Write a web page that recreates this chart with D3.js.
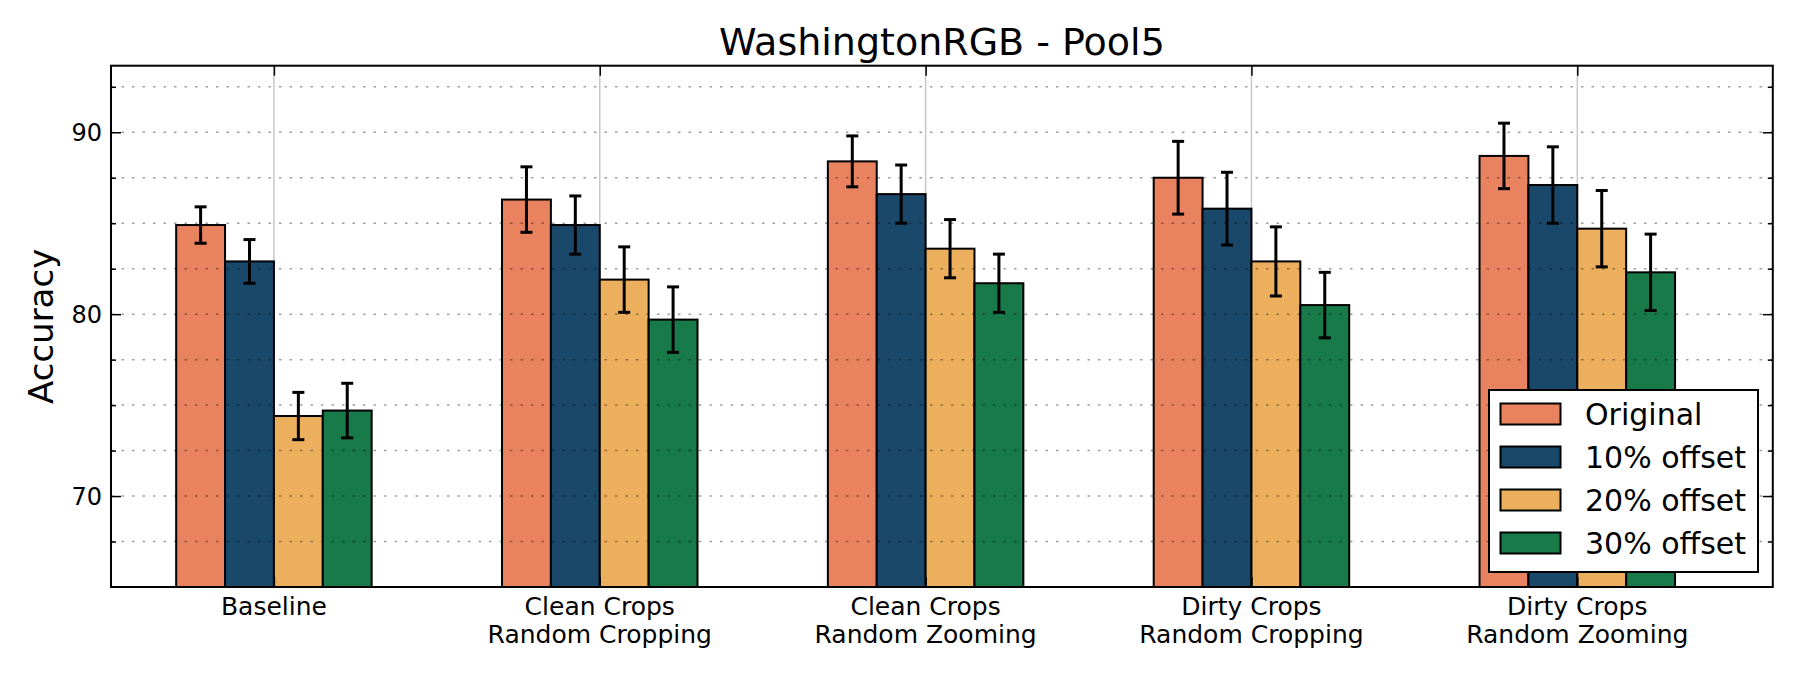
<!DOCTYPE html>
<html>
<head>
<meta charset="utf-8">
<script src="https://cdnjs.cloudflare.com/ajax/libs/d3/7.8.5/d3.min.js"></script>
<style>
  body { margin: 0; background: #fff; }
  text { font-family: "DejaVu Sans", sans-serif; fill: #000; }
</style>
</head>
<body>
<div id="chart"></div>
<script>
// *** WashingtonRGB - Pool5 grouped bars ***

// Data
let categories = ["Baseline", "Clean Crops\nRandom Cropping", "Clean Crops\nRandom Zooming",
    "Dirty Crops\nRandom Cropping", "Dirty Crops\nRandom Zooming"];
let seriesNames = ["Original", "10% offset", "20% offset", "30% offset"];
let seriesColors = ["#E9825F", "#19486B", "#EBAF5E", "#177A48"];

let original = [84.9, 86.3, 88.4, 87.5, 88.7];
let offset10 = [82.9, 84.9, 86.6, 85.8, 87.1];
let offset20 = [74.4, 81.9, 83.6, 82.9, 84.7];
let offset30 = [74.7, 79.7, 81.7, 80.5, 82.3];

let errOriginal = [1.0, 1.8, 1.4, 2.0, 1.8];
let err10 = [1.2, 1.6, 1.6, 2.0, 2.1];
let err20 = [1.3, 1.8, 1.6, 1.9, 2.1];
let err30 = [1.5, 1.8, 1.6, 1.8, 2.1];

let majorTicks = [70, 80, 90];
let minorTicks = [67.5, 72.5, 75, 77.5, 82.5, 85, 87.5, 92.5];

let values = [original, offset10, offset20, offset30];
let errors = [errOriginal, err10, err20, err30];

// Dimensions
let svgWidth = 1800;
let svgHeight = 675;
let margin = { top: 65.7, right: 27.2, bottom: 88, left: 111 };
let width = svgWidth - margin.left - margin.right;
let height = svgHeight - margin.top - margin.bottom;

let barWidth = 0.15;

let svg = d3.select("#chart")
    .append("svg")
    .attr("width", svgWidth)
    .attr("height", svgHeight);

let chartGroup = svg.append("g")
    .attr("transform", `translate(${margin.left},${margin.top})`);

// Scales
let xScale = d3.scaleLinear().domain([-0.5, 4.6]).range([0, width]);
let yScale = d3.scaleLinear().domain([65, 93.66]).range([height, 0]);

// vertical grid at group centres
chartGroup.append("g")
    .selectAll("line")
    .data(categories)
    .enter()
    .append("line")
    .attr("x1", (d, i) => xScale(i))
    .attr("x2", (d, i) => xScale(i))
    .attr("y1", 0)
    .attr("y2", height)
    .attr("stroke", "#c8c8c8")
    .attr("stroke-width", 1.5);

// Bars
let rows = [];
values.forEach(function(vals, s) {
    vals.forEach(function(v, i) {
        rows.push({ s: s, i: i, v: v, e: errors[s][i] });
    });
});

chartGroup.selectAll("rect.bar")
    .data(rows)
    .enter()
    .append("rect")
    .attr("class", "bar")
    .attr("x", d => xScale(d.i + (d.s - 2) * barWidth))
    .attr("width", xScale(barWidth) - xScale(0))
    .attr("y", d => yScale(d.v))
    .attr("height", d => height - yScale(d.v))
    .attr("fill", d => seriesColors[d.s])
    .attr("stroke", "#000")
    .attr("stroke-width", 2);

// horizontal dotted grid (drawn over the bars)
chartGroup.append("g")
    .selectAll("line")
    .data(majorTicks.concat(minorTicks))
    .enter()
    .append("line")
    .attr("x1", 0)
    .attr("x2", width)
    .attr("y1", d => yScale(d))
    .attr("y2", d => yScale(d))
    .attr("stroke", "rgba(0,0,0,0.38)")
    .attr("stroke-width", 1.5)
    .attr("stroke-dasharray", "2.5,8");

// Error bars
let errGroup = chartGroup.append("g")
    .attr("stroke", "#000")
    .attr("stroke-width", 3);

let errBars = errGroup.selectAll("g")
    .data(rows)
    .enter()
    .append("g")
    .attr("transform", d => `translate(${xScale(d.i + (d.s - 1.5) * barWidth)},0)`);

errBars.append("line")
    .attr("y1", d => yScale(d.v + d.e))
    .attr("y2", d => yScale(d.v - d.e));
errBars.append("line")
    .attr("x1", -6).attr("x2", 6)
    .attr("y1", d => yScale(d.v + d.e))
    .attr("y2", d => yScale(d.v + d.e));
errBars.append("line")
    .attr("x1", -6).attr("x2", 6)
    .attr("y1", d => yScale(d.v - d.e))
    .attr("y2", d => yScale(d.v - d.e));

// Axes (ticks inside)
let leftAxis = chartGroup.append("g")
    .call(d3.axisLeft(yScale).tickValues(majorTicks).tickSize(-10).tickPadding(20).tickFormat(d3.format("d")));
chartGroup.append("g")
    .call(d3.axisLeft(yScale).tickValues(minorTicks).tickSize(-5).tickFormat(""));
chartGroup.append("g")
    .attr("transform", `translate(${width},0)`)
    .call(d3.axisRight(yScale).tickValues(majorTicks).tickSize(-10).tickFormat(""));
chartGroup.append("g")
    .attr("transform", `translate(${width},0)`)
    .call(d3.axisRight(yScale).tickValues(minorTicks).tickSize(-5).tickFormat(""));
chartGroup.append("g")
    .call(d3.axisTop(xScale).tickValues(d3.range(categories.length)).tickSize(-10).tickFormat(""));
let bottomAxis = chartGroup.append("g")
    .attr("transform", `translate(0,${height})`)
    .call(d3.axisBottom(xScale).tickValues(d3.range(categories.length)).tickSize(-10).tickFormat(""));

chartGroup.selectAll(".domain").remove();
chartGroup.selectAll(".tick line").attr("stroke", "#000").attr("stroke-width", 1.5);
leftAxis.selectAll("text")
    .attr("font-size", "24px")
    .attr("font-family", "DejaVu Sans")
    .attr("x", -9)
    .attr("dy", "0.36em")
    .attr("fill", "#000");

// x tick labels (two lines)
let xLabels = chartGroup.append("g")
    .selectAll("text")
    .data(categories)
    .enter()
    .append("text")
    .attr("text-anchor", "middle")
    .attr("font-size", "25px")
    .attr("x", (d, i) => xScale(i))
    .attr("y", height + 28);
xLabels.selectAll("tspan")
    .data(d => d.split("\n"))
    .enter()
    .append("tspan")
    .attr("x", function() { return d3.select(this.parentNode).attr("x"); })
    .attr("dy", (d, j) => j === 0 ? 0 : 28.5)
    .text(d => d);

// frame
chartGroup.append("rect")
    .attr("width", width)
    .attr("height", height)
    .attr("fill", "none")
    .attr("stroke", "#000")
    .attr("stroke-width", 2);

// Title
svg.append("text")
    .attr("x", margin.left + width / 2)
    .attr("y", 55)
    .attr("text-anchor", "middle")
    .attr("font-size", "38px")
    .text("WashingtonRGB - Pool5");

// y axis label
svg.append("text")
    .attr("transform", `translate(53,${margin.top + height / 2}) rotate(-90)`)
    .attr("text-anchor", "middle")
    .attr("font-size", "34px")
    .text("Accuracy");

// Legend
let legend = svg.append("g")
    .attr("transform", "translate(1489,390)");
legend.append("rect")
    .attr("width", 269)
    .attr("height", 182)
    .attr("fill", "#fff")
    .attr("stroke", "#000")
    .attr("stroke-width", 2);
let legendItems = legend.selectAll("g.item")
    .data(seriesNames)
    .enter()
    .append("g")
    .attr("class", "item")
    .attr("transform", (d, i) => `translate(0,${24 + i * 43})`);
legendItems.append("rect")
    .attr("x", 11.5)
    .attr("y", -10.5)
    .attr("width", 60)
    .attr("height", 21)
    .attr("fill", (d, i) => seriesColors[i])
    .attr("stroke", "#000")
    .attr("stroke-width", 2);
legendItems.append("text")
    .attr("x", 96)
    .attr("y", 11)
    .attr("font-size", "30px")
    .text(d => d);
</script>
</body>
</html>
